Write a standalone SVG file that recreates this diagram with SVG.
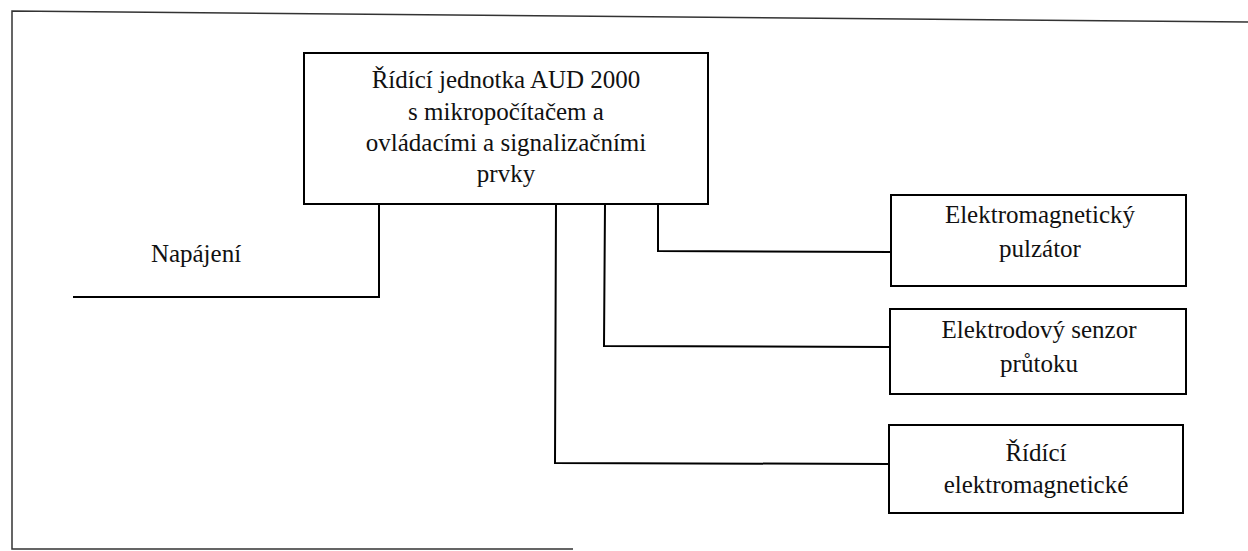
<svg xmlns="http://www.w3.org/2000/svg" width="1248" height="551" viewBox="0 0 1248 551">
<style>
.box{fill:#fff;stroke:#000;stroke-width:2}
.ln{fill:none;stroke:#000;stroke-width:2}
.fr{fill:none;stroke:#333;stroke-width:1.5}
text{font-family:"Liberation Serif","Times New Roman",serif;font-size:25px;fill:#111;text-anchor:middle}
</style>
<rect width="1248" height="551" fill="#fff"/>
<g id="frame">
<polyline class="fr" points="1248,22 12,11 12,549 573,549"/>
</g>
<g id="connectors">
<polyline class="ln" points="379,204 379,297 73,297"/>
<polyline class="ln" points="658,204 658,251 891,252"/>
<polyline class="ln" points="605,204 604,346 890,347"/>
<polyline class="ln" points="556,204 555,463 889,464"/>
</g>
<g id="napajeni">
<text x="196" y="262">Napájení</text>
</g>
<g id="control-unit">
<rect class="box" x="304" y="53" width="404" height="151"/>
<text x="506" y="88">Řídící jednotka AUD 2000</text>
<text x="506" y="120">s mikropočítačem a</text>
<text x="506" y="151">ovládacími a signalizačními</text>
<text x="506" y="182">prvky</text>
</g>
<g id="pulzator">
<rect class="box" x="891" y="195" width="295" height="91"/>
<text x="1040" y="223">Elektromagnetický</text>
<text x="1040" y="257">pulzátor</text>
</g>
<g id="senzor">
<rect class="box" x="890" y="309" width="296" height="85"/>
<text x="1039" y="338">Elektrodový senzor</text>
<text x="1039" y="372">průtoku</text>
</g>
<g id="ridici">
<rect class="box" x="889" y="425" width="294" height="88"/>
<text x="1036" y="461">Řídící</text>
<text x="1036" y="493">elektromagnetické</text>
</g>
</svg>
